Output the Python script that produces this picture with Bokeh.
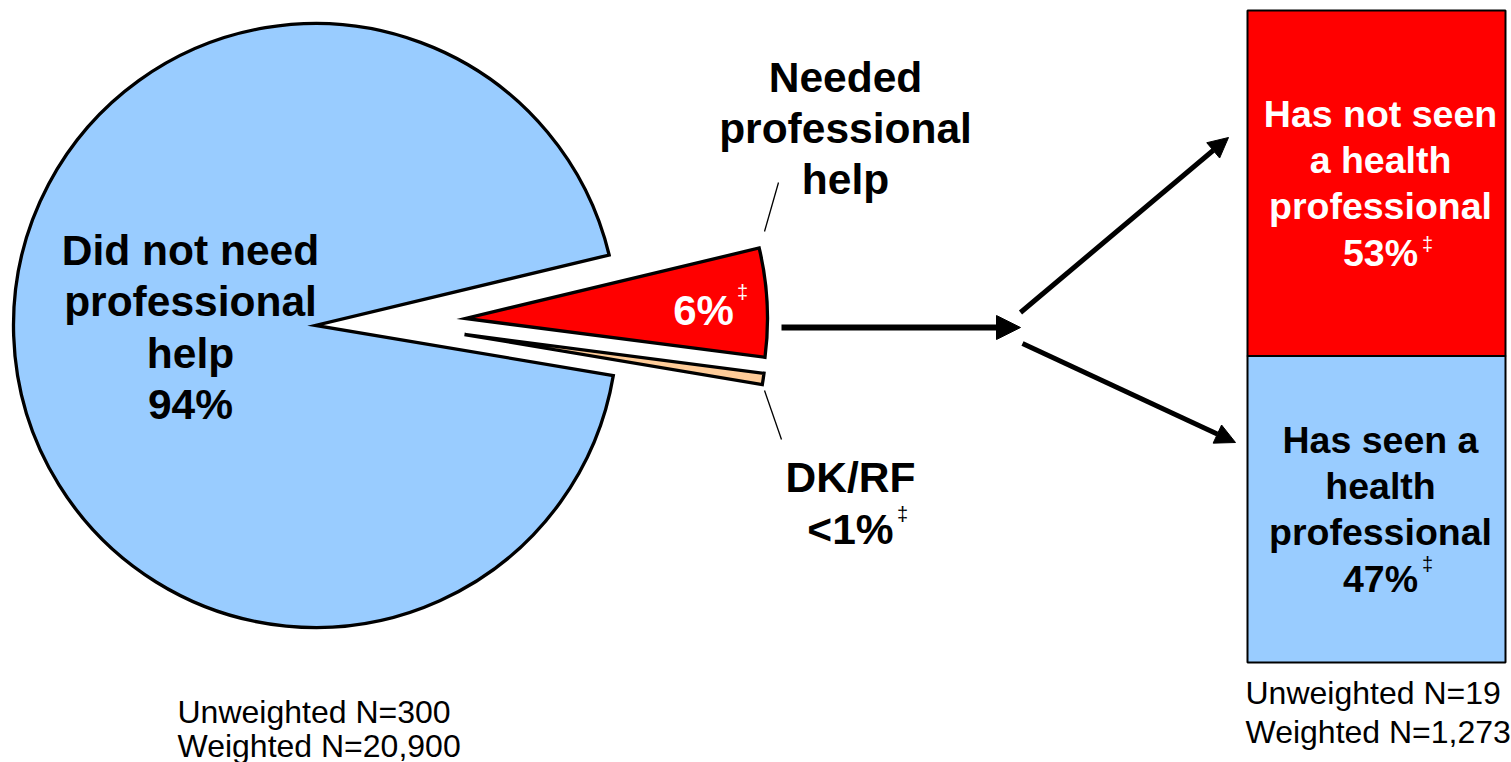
import numpy as np
from bokeh.plotting import figure
from bokeh.models import Range1d, Arrow, NormalHead, ColumnDataSource
from bokeh.core.properties import value
from bokeh.embed import file_html
from bokeh.resources import INLINE

# ---------------- data ----------------
pie_categories = ["Did not need professional help", "Needed professional help", "DK/RF"]
pie_values = [93.6, 5.8, 0.6]          # percent (labels: 94%, 6%, <1%)
pie_colors = ["#99CCFF", "#FF0000", "#FFCC99"]
pie_text = ["Did not need\nprofessional\nhelp\n94%", "Needed\nprofessional\nhelp", "DK/RF\n<1%"]
pie_inner_text = ["6%"]

bar_categories = ["Has seen a health professional", "Has not seen a health professional"]
bar_values = [47, 53]                   # stacked bottom -> top
bar_colors = ["#99CCFF", "#FF0000"]
bar_text = ["Has seen a\nhealth\nprofessional\n47%", "Has not seen\na health\nprofessional\n53%"]
bar_text_colors = ["black", "white"]

pie_n_text = ["Unweighted N=300", "Weighted N=20,900"]
bar_n_text = ["Unweighted N=19", "Weighted N=1,273"]

# ---------------- layout ----------------
W, H = 1511, 762
FONT = "Liberation Sans"

p = figure(width=W, height=H, x_range=Range1d(0, W), y_range=Range1d(-H, 0),
           output_backend="svg", toolbar_location=None, min_border=0,
           x_axis_location=None, y_axis_location=None)
p.grid.visible = False
p.outline_line_color = None
p.background_fill_color = "white"
p.border_fill_color = "white"

# ---- pie (exploded) ----
cx, cy, R = 315, -325, 302
start0 = np.radians(13.5)
order = [0, 2, 1]  # anticlockwise drawing order
total = sum(pie_values)
starts = [0.0] * 3
ends = [0.0] * 3
a = start0
for i in order:
    span = 2 * np.pi * pie_values[i] / total
    starts[i] = a
    ends[i] = a + span
    a += span
explode = [(0, 0), (150, 7), (149, -9)]
pie_src = ColumnDataSource(dict(
    x=[cx + e[0] for e in explode],
    y=[cy + e[1] for e in explode],
    start=starts, end=ends, color=pie_colors))
p.wedge(x="x", y="y", radius=R, start_angle="start", end_angle="end",
        fill_color="color", line_color="black", line_width=3.3,
        line_join="miter", source=pie_src)

# leader lines
p.segment(x0=[778, 764], y0=[-182, -390], x1=[764, 781], y1=[-231, -439],
          line_color="black", line_width=1.3)

# pie labels
p.text(x=[190, 845, 850], y=[-327, -128, -503], text=pie_text,
       text_font=value(FONT), text_font_style="bold", text_font_size="42.5px",
       text_color="black", text_align="center", text_baseline="middle",
       text_line_height=1.09)
p.text(x=[703], y=[-310], text=pie_inner_text,
       text_font=value(FONT), text_font_style="bold", text_font_size="42px",
       text_color="white", text_align="center", text_baseline="middle")

# ---- stacked bar ----
bottoms = list(np.cumsum([0] + bar_values[:-1]))
tops = list(np.cumsum(bar_values))
bar_src = ColumnDataSource(dict(
    x=[1376] * len(bar_values), bottom=bottoms, top=tops, color=bar_colors,
    mid=[(b + t) / 2 for b, t in zip(bottoms, tops)], label=bar_text,
    tcolor=bar_text_colors))
# extra range mapped so that 0 -> y 662 and 100 -> y 10 on the canvas
span_px = 652.0
lo = -(H - 662) / span_px * 100
hi = lo + H / span_px * 100
p.extra_y_ranges = {"bar": Range1d(lo, hi)}
p.vbar(x="x", width=258, bottom="bottom", top="top", fill_color="color",
       line_color="black", line_width=2, y_range_name="bar", source=bar_src)
p.text(x=1380, y="mid", text="label", text_color="tcolor", y_range_name="bar",
       text_font=value(FONT), text_font_style="bold", text_font_size="37.5px",
       text_align="center", text_baseline="middle", text_line_height=1.1,
       source=bar_src)

# double-dagger marks
p.text(x=[742, 902, 1427, 1427], y=[-291, -513, -243, -563], text=["‡"] * 4,
       text_font=value(FONT), text_font_size="20px",
       text_color=["white", "black", "white", "black"],
       text_align="center", text_baseline="middle")

# ---- arrows ----
p.add_layout(Arrow(x_start=781, y_start=-327, x_end=1020, y_end=-327,
                   line_width=6, line_color="black",
                   end=NormalHead(size=24, fill_color="black", line_color="black")))
p.add_layout(Arrow(x_start=1020, y_start=-312, x_end=1228, y_end=-137,
                   line_width=5, line_color="black",
                   end=NormalHead(size=20, fill_color="black", line_color="black")))
p.add_layout(Arrow(x_start=1022, y_start=-343, x_end=1235, y_end=-442,
                   line_width=5, line_color="black",
                   end=NormalHead(size=20, fill_color="black", line_color="black")))

# ---- N texts ----
p.text(x=[177, 177], y=[-711, -745], text=pie_n_text,
       text_font=value(FONT), text_font_size="32px", text_color="black",
       text_align="left", text_baseline="middle")
p.text(x=[1245, 1245], y=[-692, -731], text=bar_n_text,
       text_font=value(FONT), text_font_size="32px", text_color="black",
       text_align="left", text_baseline="middle")

open("out.html", "w").write(file_html(p, INLINE))
